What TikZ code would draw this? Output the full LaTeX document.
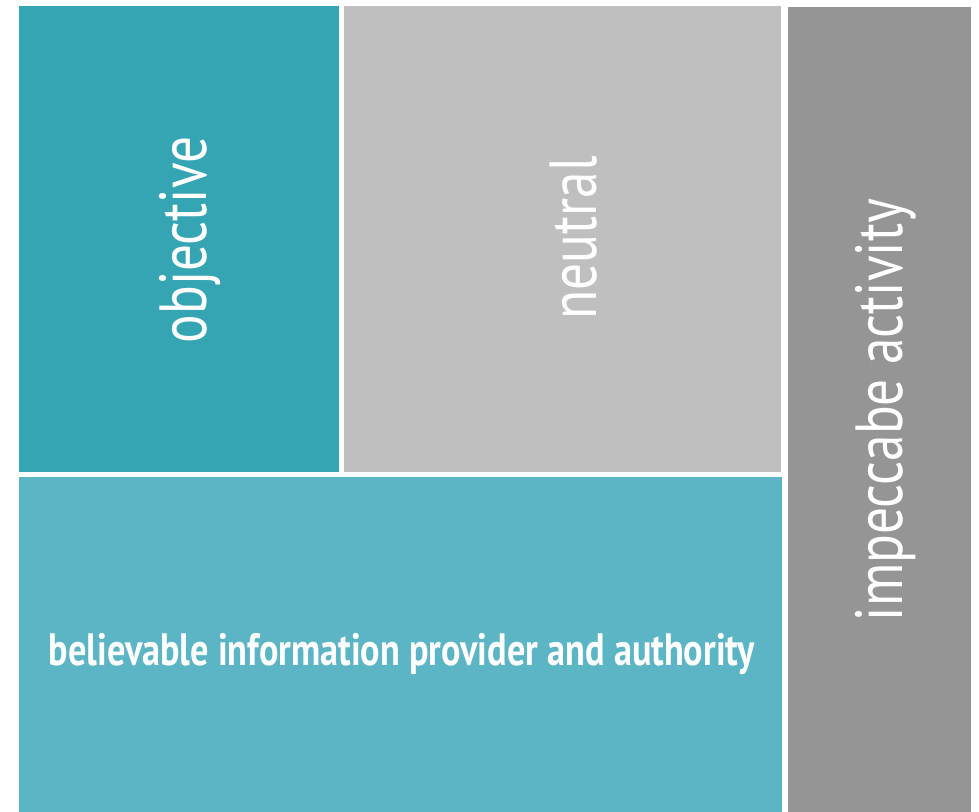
\documentclass[tikz,border=0pt]{standalone}
\usepackage{fontspec}
\setmainfont{PT Sans}[FakeStretch=0.8]
\usetikzlibrary{positioning}

\definecolor{tealdark}{HTML}{35A4B3}
\definecolor{teallight}{HTML}{5BB5C4}
\definecolor{greylight}{HTML}{BFBFBF}
\definecolor{greydark}{HTML}{959595}

\begin{document}
\begin{tikzpicture}[x=0.75pt, y=-0.75pt,
    label/.style={text=white, inner sep=0pt, font=\fontsize{50}{50}\selectfont},
    vlabel/.style={label, rotate=90}]
    % Frame
    \useasboundingbox (0,0) rectangle (979,812);
    \fill[white] (0,0) rectangle (979,812);

    % Tiles
    \fill[tealdark]  (19,6)   rectangle (339,472);
    \fill[greylight] (344,6)  rectangle (781,472);
    \fill[teallight] (19,477) rectangle (782,812);
    \fill[greydark]  (788,7)  rectangle (971,812);

    % Labels
    \node[vlabel] (obj) at (190,240) {objective};
    \node[vlabel] (neu) at (574,238) {neutral};
    \node[vlabel] (imp) at (886,410) {impeccabe activity};
    \node[label, font=\bfseries\fontsize{34}{34}\selectfont] (bel) at (402,654)
        {believable information provider and authority};
\end{tikzpicture}
\end{document}
